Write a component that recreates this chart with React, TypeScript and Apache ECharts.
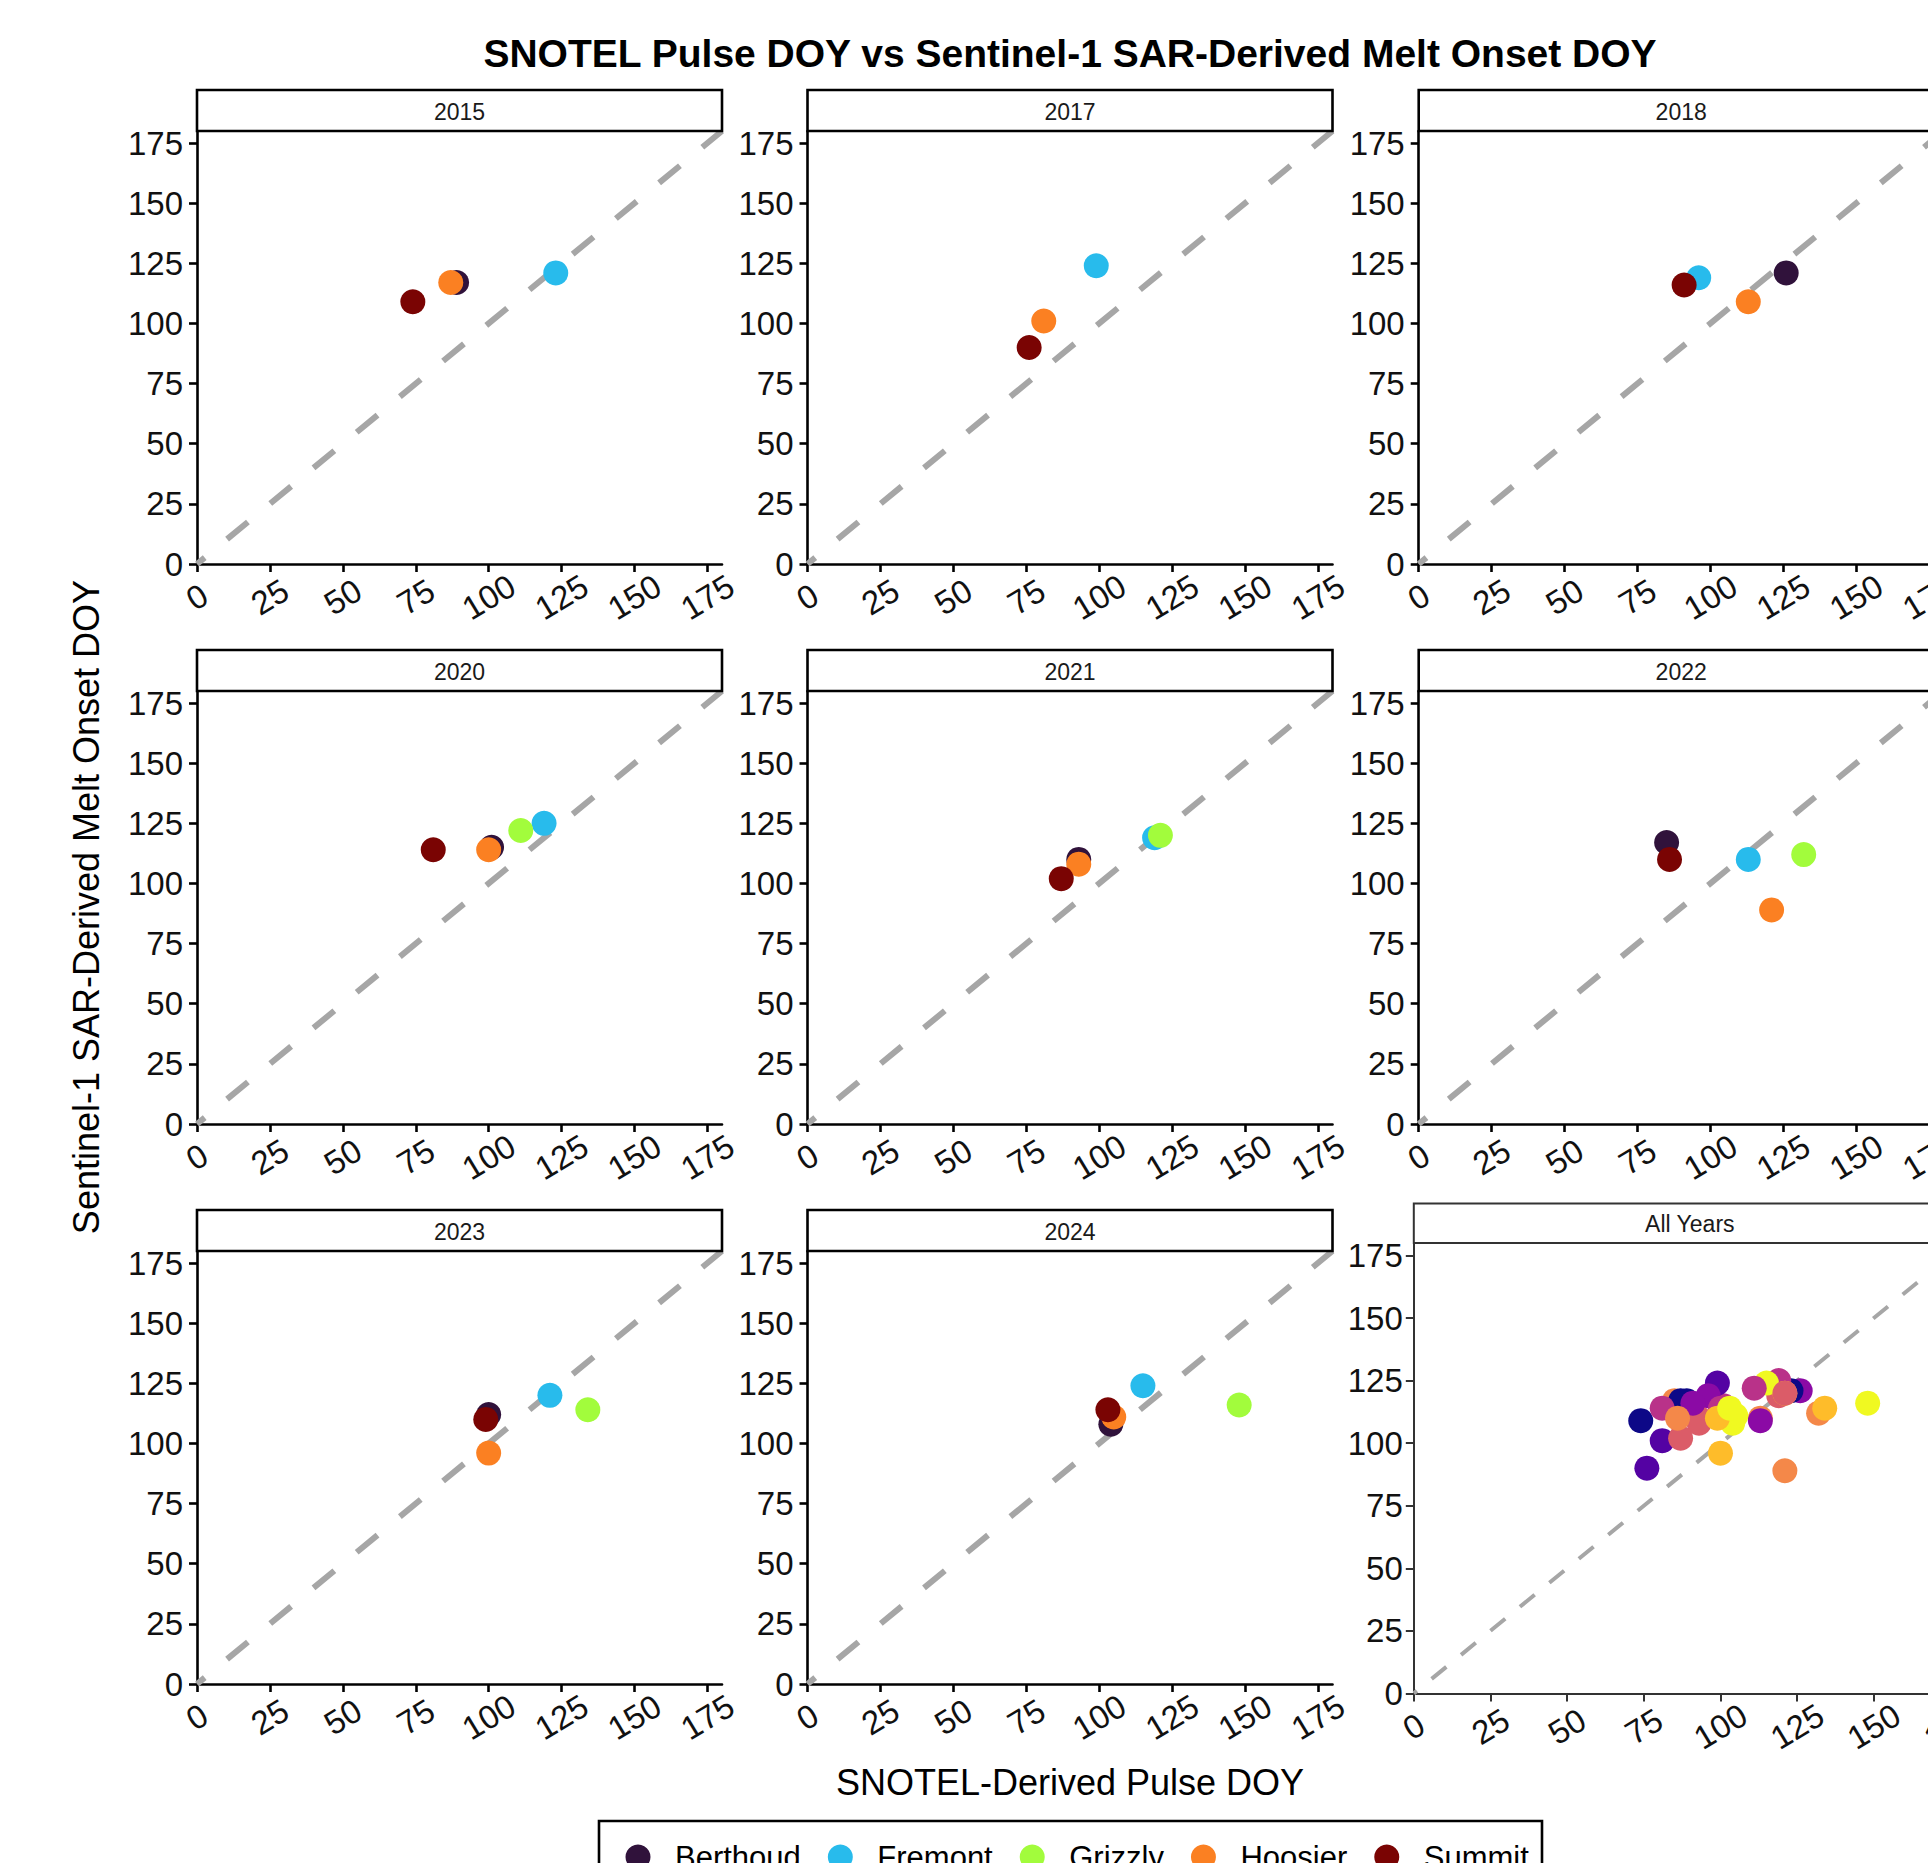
import React, { useEffect, useRef } from 'react';
import * as echarts from 'echarts';

// ---------- data ----------
const years = ['2015', '2017', '2018', '2020', '2021', '2022', '2023', '2024'];
const sites = ['Berthoud', 'Fremont', 'Grizzly', 'Hoosier', 'Summit'];
const siteColors = ['#30123B', '#28BBEC', '#A2FC3C', '#FB8022', '#7A0403'];
const yearColors = ['#0D0887', '#5402A3', '#8B0AA5', '#B93289', '#DB5C68', '#F48849', '#FEBC2A', '#F0F921'];

// SNOTEL-derived pulse DOY (x), one entry per year (null = no data)
const pulseBerthoud = [89, null, 126, 101, 93, 85, 100, 104];
const pulseFremont = [123, 99, 96, 119, 119, 113, 121, 115];
const pulseGrizzly = [null, null, null, 111, 121, 132, 134, 148];
const pulseHoosier = [87, 81, 113, 100, 93, 121, 100, 105];
const pulseSummit = [74, 76, 91, 81, 87, 86, 99, 103];

// Sentinel-1 SAR-derived melt onset DOY (y)
const meltBerthoud = [117, null, 121, 115, 110, 117, 112, 108];
const meltFremont = [121, 124, 119, 125, 119, 110, 120, 124];
const meltGrizzly = [null, null, null, 122, 120, 112, 114, 116];
const meltHoosier = [117, 101, 109, 114, 108, 89, 96, 111];
const meltSummit = [109, 90, 116, 114, 102, 110, 110, 114];

const pulseBySite = [pulseBerthoud, pulseFremont, pulseGrizzly, pulseHoosier, pulseSummit];
const meltBySite = [meltBerthoud, meltFremont, meltGrizzly, meltHoosier, meltSummit];

const axisTicks = [0, 25, 50, 75, 100, 125, 150, 175];
const axisMin = 0;
const axisMax = 180;
const oneToOne = [[0, 0], [180, 180]];

const titleText = 'SNOTEL Pulse DOY vs Sentinel-1 SAR-Derived Melt Onset DOY';
const xTitle = 'SNOTEL-Derived Pulse DOY';
const yTitle = 'Sentinel-1 SAR-Derived Melt Onset DOY';
const allYearsLabel = 'All Years';

// ---------- layout ----------
const FONT = '"Liberation Sans", Arial, Helvetica, sans-serif';
const colLefts = [197, 807.5, 1418.7];
const rowTops = [131, 691, 1251];
const panelW = 525;
const panelH = 433;
const stripH = 41;
const allGrid = { left: 1413.8, top: 1243, width: 552, height: 450.4 };
const allStripH = 39.6;

function App() {
  const ref = useRef<HTMLDivElement>(null);

  useEffect(() => {
    if (!ref.current) return;
    const chart = echarts.init(ref.current, undefined, { renderer: 'svg' });

    const grids: any[] = [];
    const xAxes: any[] = [];
    const yAxes: any[] = [];
    const series: any[] = [];
    const graphics: any[] = [];

    const makeAxes = (gi: number, thin: boolean) => {
      const c = thin ? '#333333' : '#000000';
      const w = thin ? 2 : 2.6;
      const common = {
        type: 'value',
        gridIndex: gi,
        min: axisMin,
        max: axisMax,
        splitLine: { show: false },
        axisLine: { show: true, onZero: false, lineStyle: { color: c, width: w } },
        axisTick: { show: true, length: 8, customValues: axisTicks, lineStyle: { color: c, width: w } },
      };
      xAxes.push({
        ...common,
        axisLabel: {
          customValues: axisTicks,
          rotate: 31,
          align: 'center',
          verticalAlign: 'middle',
          margin: 33,
          fontSize: 33,
          color: '#111',
          fontFamily: FONT,
        },
      });
      yAxes.push({
        ...common,
        axisLabel: {
          customValues: axisTicks,
          margin: thin ? 11 : 14,
          fontSize: 33,
          color: '#111',
          fontFamily: FONT,
        },
      });
    };

    const addStrip = (x: number, y: number, w: number, h: number, label: string, thin: boolean) => {
      graphics.push({
        type: 'rect',
        shape: { x, y, width: w, height: h },
        style: { fill: '#ffffff', stroke: thin ? '#333333' : '#000000', lineWidth: thin ? 2 : 2.6 },
        z: 10,
      });
      graphics.push({
        type: 'text',
        x: x + w / 2,
        y: y + h / 2 + 1,
        style: {
          text: label,
          fontSize: 23,
          fontFamily: FONT,
          fill: '#1A1A1A',
          align: 'center',
          verticalAlign: 'middle',
        },
        z: 11,
      });
    };

    years.forEach((yr, p) => {
      const col = p % 3;
      const row = Math.floor(p / 3);
      grids.push({ left: colLefts[col], top: rowTops[row], width: panelW, height: panelH, outerBoundsMode: 'none' });
      makeAxes(p, false);
      addStrip(colLefts[col], rowTops[row] - stripH, panelW, stripH, yr, false);

      series.push({
        type: 'line',
        name: '1:1',
        xAxisIndex: p,
        yAxisIndex: p,
        data: oneToOne,
        symbol: 'none',
        silent: true,
        z: 1,
        lineStyle: { color: '#A6A6A6', width: 6, type: [27, 29], dashOffset: 17, cap: 'butt' },
      });

      sites.forEach((s, si) => {
        const x = pulseBySite[si][p];
        const y = meltBySite[si][p];
        series.push({
          type: 'scatter',
          name: s,
          xAxisIndex: p,
          yAxisIndex: p,
          symbol: 'circle',
          symbolSize: 25,
          z: 2,
          itemStyle: { color: siteColors[si], opacity: 1 },
          data: x != null && y != null ? [[x, y]] : [],
        });
      });
    });

    // All Years panel
    const ai = years.length;
    grids.push({ ...allGrid, outerBoundsMode: 'none' });
    makeAxes(ai, true);
    addStrip(allGrid.left, allGrid.top - allStripH, allGrid.width, allStripH, allYearsLabel, true);
    series.push({
      type: 'line',
      name: '1:1 all',
      xAxisIndex: ai,
      yAxisIndex: ai,
      data: oneToOne,
      symbol: 'none',
      silent: true,
      z: 1,
      lineStyle: { color: '#A6A6A6', width: 4, type: [19, 19], dashOffset: 15, cap: 'butt' },
    });
    const allData: any[] = [];
    sites.forEach((s, si) => {
      years.forEach((yr, yi) => {
        const x = pulseBySite[si][yi];
        const y = meltBySite[si][yi];
        if (x != null && y != null) {
          allData.push({ value: [x, y], name: s + ' ' + yr, itemStyle: { color: yearColors[yi], opacity: 1 } });
        }
      });
    });
    series.push({
      type: 'scatter',
      name: allYearsLabel,
      xAxisIndex: ai,
      yAxisIndex: ai,
      symbol: 'circle',
      symbolSize: 25,
      z: 2,
      itemStyle: { opacity: 1 },
      data: allData,
    });

    // Titles
    graphics.push({
      type: 'text',
      x: 1070,
      y: 53,
      style: { text: titleText, fontSize: 39, fontWeight: 'bold', fontFamily: FONT, fill: '#000', align: 'center', verticalAlign: 'middle' },
    });
    graphics.push({
      type: 'text',
      x: 1070,
      y: 1782,
      style: { text: xTitle, fontSize: 36, fontFamily: FONT, fill: '#000', align: 'center', verticalAlign: 'middle' },
    });
    graphics.push({
      type: 'text',
      x: 86,
      y: 907,
      rotation: Math.PI / 2,
      style: { text: yTitle, fontSize: 36, fontFamily: FONT, fill: '#000', align: 'center', verticalAlign: 'middle' },
    });
    // Legend frame
    graphics.push({
      type: 'rect',
      shape: { x: 599, y: 1821, width: 943, height: 90 },
      style: { fill: 'none', stroke: '#000', lineWidth: 2.6 },
    });

    chart.setOption({
      animation: false,
      backgroundColor: '#ffffff',
      grid: grids,
      xAxis: xAxes,
      yAxis: yAxes,
      series,
      graphic: graphics,
      legend: {
        data: sites,
        left: 625.5,
        top: 1841.5,
        orient: 'horizontal',
        icon: 'circle',
        itemWidth: 64,
        itemHeight: 25,
        itemGap: 27,
        padding: 0,
        selectedMode: false,
        textStyle: { fontSize: 31, fontFamily: FONT, color: '#000' },
      },
    });

    return () => {
      chart.dispose();
    };
  }, []);

  return (
    <div
      ref={ref}
      style={{ position: 'absolute', left: 0, top: 0, width: 1928, height: 1863, background: '#fff' }}
    />
  );
}

export default App;
